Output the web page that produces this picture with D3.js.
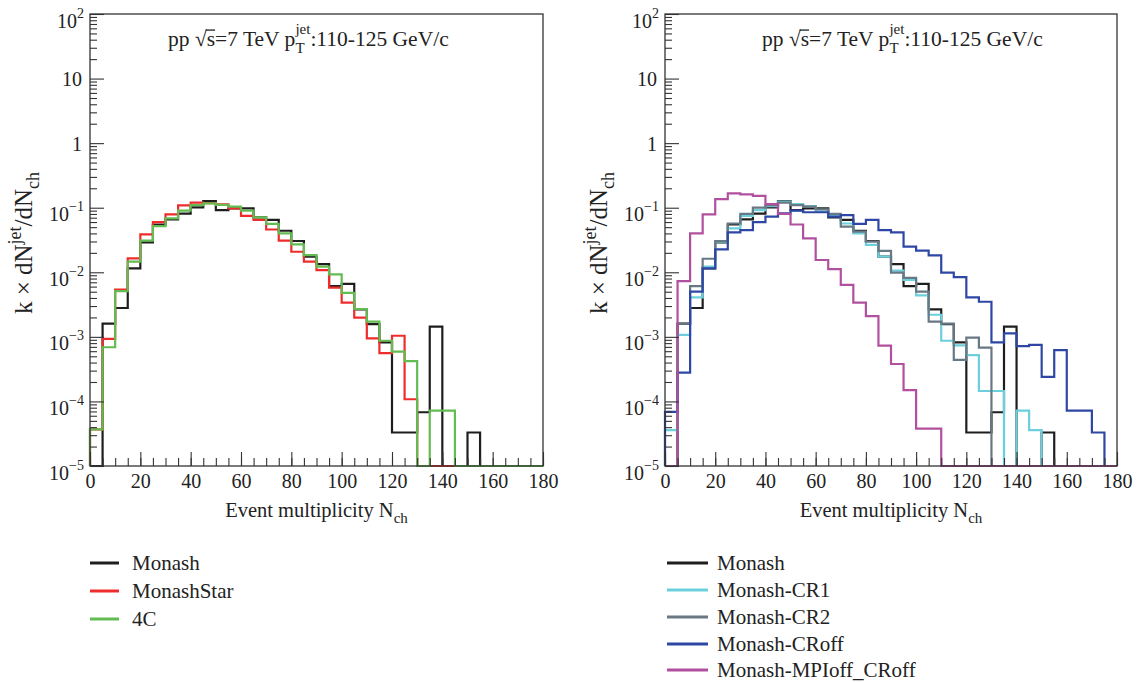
<!DOCTYPE html>
<html>
<head>
<meta charset="utf-8">
<script src="https://cdn.jsdelivr.net/npm/d3@7"></script>
<style>
  html, body { margin: 0; padding: 0; background: #fff; }
  svg { display: block; }
  text { font-family: "Liberation Serif", "DejaVu Serif", serif; fill: #222; }
</style>
</head>
<body>
<svg id="chart" width="1142" height="682"></svg>
<script>
// Bin lower edges of N_ch (bin width 5, range 0-180)
const binEdges = d3.range(0, 185, 5);

// Left panel: tunes
const monash = [0, 1.6e-3, 2.8e-3, 1.15e-2, 2.9e-2, 5.5e-2, 6.6e-2, 8.1e-2, 0.101, 0.127, 0.092, 0.098,
  0.098, 0.071, 0.065, 0.044, 0.0305, 0.0175, 0.0134, 6.1e-3, 6.6e-3, 2.67e-3, 1.58e-3, 8.2e-4,
  3.3e-5, 3.3e-5, 6.8e-5, 1.44e-3, 0, 0, 3.3e-5, 0, 0, 0, 0, 0];
const monashStar = [3.7e-5, 9.3e-4, 5.4e-3, 0.0164, 0.0387, 0.060, 0.079, 0.109, 0.12, 0.118, 0.113, 0.098,
  0.0745, 0.065, 0.046, 0.031, 0.0208, 0.0146, 0.0108, 5.8e-3, 3.4e-3, 1.98e-3, 9.5e-4, 5.6e-4,
  1.04e-3, 1.08e-4, 0, 0, 0, 0, 0, 0, 0, 0, 0, 0];
const tune4C = [3.7e-5, 6.9e-4, 5.1e-3, 0.0146, 0.031, 0.052, 0.0686, 0.09, 0.110, 0.117, 0.111, 0.104,
  0.09, 0.071, 0.056, 0.040, 0.027, 0.0185, 0.0122, 9.3e-3, 4.8e-3, 2.7e-3, 1.72e-3, 8.7e-4,
  5.9e-4, 4.2e-4, 0, 7.2e-5, 7.2e-5, 0, 0, 0, 0, 0, 0, 0];

// Right panel: colour reconnection / MPI variations
const monashCR1 = [3.6e-5, 1.07e-3, 4.1e-3, 0.0122, 0.0298, 0.048, 0.0745, 0.092, 0.106, 0.124, 0.114, 0.106,
  0.087, 0.077, 0.057, 0.040, 0.0265, 0.0175, 0.0106, 7.6e-3, 4.4e-3, 2.2e-3, 8.7e-4, 7.4e-4,
  5.2e-4, 1.45e-4, 1.45e-4, 0, 7.2e-5, 3.6e-5, 0, 0, 0, 0, 0, 0];
const monashCR2 = [0, 1.6e-3, 6.1e-3, 0.0162, 0.0305, 0.057, 0.080, 0.100, 0.110, 0.12, 0.11, 0.104,
  0.094, 0.080, 0.051, 0.0425, 0.0298, 0.0214, 9.9e-3, 8.2e-3, 5.0e-3, 1.72e-3, 1.6e-3, 4.4e-4,
  9.7e-4, 6.8e-4, 0, 0, 0, 0, 0, 0, 0, 0, 0, 0];
const monashCRoff = [6.9e-5, 2.8e-4, 5.0e-3, 0.0115, 0.0227, 0.0416, 0.045, 0.060, 0.0726, 0.082, 0.090, 0.085,
  0.085, 0.0726, 0.077, 0.056, 0.065, 0.045, 0.0416, 0.0249, 0.0216, 0.0183, 9.9e-3, 8.4e-3,
  4.1e-3, 3.5e-3, 8.2e-4, 1.13e-3, 7.2e-4, 7.5e-4, 2.4e-4, 6.25e-4, 7.2e-5, 7.2e-5, 3.3e-5, 0];
const monashMPIoffCRoff = [0, 7.3e-3, 0.040, 0.079, 0.136, 0.167, 0.161, 0.152, 0.114, 0.080, 0.055, 0.0336,
  0.0155, 0.0112, 6.4e-3, 3.4e-3, 2.1e-3, 7.3e-4, 3.8e-4, 1.5e-4, 3.8e-5, 3.8e-5, 0, 0,
  0, 0, 0, 0, 0, 0, 0, 0, 0, 0, 0, 0];

// Axis ticks
const xMajorTicks = [0, 20, 40, 60, 80, 100, 120, 140, 160, 180];
const yDecades = [1e-5, 1e-4, 1e-3, 1e-2, 1e-1, 1, 10, 100];
const yDecadeLabels = [["10", "\u22125"], ["10", "\u22124"], ["10", "\u22123"], ["10", "\u22122"],
  ["10", "\u22121"], ["1", null], ["10", null], ["10", "2"]];

const panels = [
  {
    left: 90, right: 543, titleX: 168, yTitleX: 32,
    legendLine: [90, 119], legendText: 132, legendRows: [563, 591, 619],
    series: [
      { name: "Monash", values: monash, color: "#1e1e1e" },
      { name: "MonashStar", values: monashStar, color: "#ee2c2c" },
      { name: "4C", values: tune4C, color: "#63bc51" }
    ]
  },
  {
    left: 665, right: 1117, titleX: 762, yTitleX: 607,
    legendLine: [667, 708], legendText: 717, legendRows: [563, 590, 617, 644, 670],
    series: [
      { name: "Monash", values: monash, color: "#1e1e1e" },
      { name: "Monash-CR1", values: monashCR1, color: "#6ccfdc" },
      { name: "Monash-CR2", values: monashCR2, color: "#687884" },
      { name: "Monash-CRoff", values: monashCRoff, color: "#2e47a5" },
      { name: "Monash-MPIoff_CRoff", values: monashMPIoffCRoff, color: "#b1509f" }
    ]
  }
];

const plotTop = 14, plotBottom = 466;
const yMin = 1e-5, yMax = 1e2;
const svg = d3.select("#chart");
svg.append("rect").attr("width", 1142).attr("height", 682).attr("fill", "#fff");

// Lays out a run of text pieces (with sub/superscripts) and aligns the whole run.
function richText(parent, x, y, parts, anchor, baseSize) {
  const g = parent.append("g");
  let cursor = 0, prevStart = 0;
  const overlines = [];
  parts.forEach(p => {
    const size = p.size || baseSize;
    const startX = p.stack ? prevStart : cursor;
    const t = g.append("text")
      .attr("x", startX).attr("y", p.dy || 0)
      .attr("font-size", size)
      .attr("text-anchor", "start")
      .attr("fill", "#222")
      .text(p.t);
    const w = t.node().getComputedTextLength();
    if (p.overline) overlines.push([startX, startX + w, (p.dy || 0) - size * 0.74]);
    prevStart = startX;
    cursor = Math.max(cursor, startX + w);
  });
  overlines.forEach(o => g.append("line")
    .attr("x1", o[0] - 1).attr("x2", o[1]).attr("y1", o[2]).attr("y2", o[2])
    .attr("stroke", "#222").attr("stroke-width", 1.3));
  const shift = anchor === "end" ? cursor : anchor === "middle" ? cursor / 2 : 0;
  g.attr("transform", `translate(${x - shift},${y})`);
  return g;
}

panels.forEach(panel => {
  const x = d3.scaleLinear().domain([0, 180]).range([panel.left, panel.right]);
  const y = d3.scaleLog().domain([yMin, yMax]).range([plotBottom, plotTop]);
  const yv = v => y(Math.max(v, yMin));
  const g = svg.append("g");

  // Histograms drawn as step outlines
  const line = d3.line().curve(d3.curveStepAfter).x(d => x(d[0])).y(d => yv(d[1]));
  panel.series.forEach(s => {
    const pts = [[0, 0]];
    s.values.forEach((v, i) => pts.push([binEdges[i], v]));
    pts.push([180, s.values[s.values.length - 1]]);
    pts.push([180, 0]);
    g.append("path").attr("d", line(pts))
      .attr("fill", "none").attr("stroke", s.color)
      .attr("stroke-width", 2.2).attr("stroke-linejoin", "miter");
  });

  // X axis: minor ticks every 5, major every 20 (pointing into the frame)
  g.append("g").attr("transform", `translate(0,${plotBottom})`)
    .call(d3.axisBottom(x).tickValues(d3.range(0, 181, 5)).tickSize(-8).tickFormat(""))
    .call(a => a.select(".domain").remove());
  const xa = g.append("g").attr("transform", `translate(0,${plotBottom})`)
    .call(d3.axisBottom(x).tickValues(xMajorTicks).tickSize(-14).tickPadding(8).tickFormat(d3.format("d")));
  xa.select(".domain").remove();
  xa.selectAll("text").attr("font-size", 20).attr("fill", "#222").attr("dy", "0.71em");

  // Y axis: minor ticks 2..9 per decade, major at each decade
  const yMinor = [];
  for (let e = -5; e < 2; e++) for (let m = 2; m <= 9; m++) yMinor.push(m * Math.pow(10, e));
  g.append("g").attr("transform", `translate(${panel.left},0)`)
    .call(d3.axisLeft(y).tickValues(yMinor).tickSize(-7).tickFormat(""))
    .call(a => a.select(".domain").remove());
  const ya = g.append("g").attr("transform", `translate(${panel.left},0)`)
    .call(d3.axisLeft(y).tickValues(yDecades).tickSize(-14).tickFormat(""));
  ya.select(".domain").remove();
  ya.selectAll(".tick").each(function (d, i) {
    const lab = yDecadeLabels[i];
    const tg = d3.select(this);
    if (lab[1] === null) {
      richText(tg, -8, 7, [{ t: lab[0] }], "end", 20);
    } else {
      richText(tg, -6, 13, [{ t: lab[0] }, { t: lab[1], size: 14, dy: -10 }], "end", 20);
    }
  });
  g.selectAll(".tick line").attr("stroke", "#333").attr("stroke-width", 1.1);

  // Frame
  g.append("rect").attr("x", panel.left).attr("y", plotTop)
    .attr("width", panel.right - panel.left).attr("height", plotBottom - plotTop)
    .attr("fill", "none").attr("stroke", "#333").attr("stroke-width", 1.3);

  // Axis titles
  richText(svg, (panel.left + panel.right) / 2, 517,
    [{ t: "Event multiplicity N" }, { t: "ch", size: 15, dy: 6 }], "middle", 20.5);
  const yt = svg.append("g").attr("transform", `translate(${panel.yTitleX},243) rotate(-90)`);
  richText(yt, 0, 0,
    [{ t: "k \u00d7 dN" }, { t: "jet", size: 18, dy: -11 }, { t: "/dN" }, { t: "ch", size: 18, dy: 7 }],
    "middle", 25);

  // Collision system / jet pT annotation
  richText(svg, panel.titleX, 46, [
    { t: "pp \u221a" }, { t: "s", overline: true }, { t: "=7 TeV p" },
    { t: "T", size: 15, dy: 7 }, { t: "jet", size: 15, dy: -12, stack: true },
    { t: ":110-125 GeV/c" }
  ], "start", 21.5);

  // Legend
  panel.series.forEach((s, i) => {
    const ry = panel.legendRows[i];
    svg.append("line").attr("x1", panel.legendLine[0]).attr("x2", panel.legendLine[1])
      .attr("y1", ry).attr("y2", ry).attr("stroke", s.color).attr("stroke-width", 3);
    svg.append("text").attr("x", panel.legendText).attr("y", ry + 7)
      .attr("font-size", 21).text(s.name);
  });
});
</script>
</body>
</html>
